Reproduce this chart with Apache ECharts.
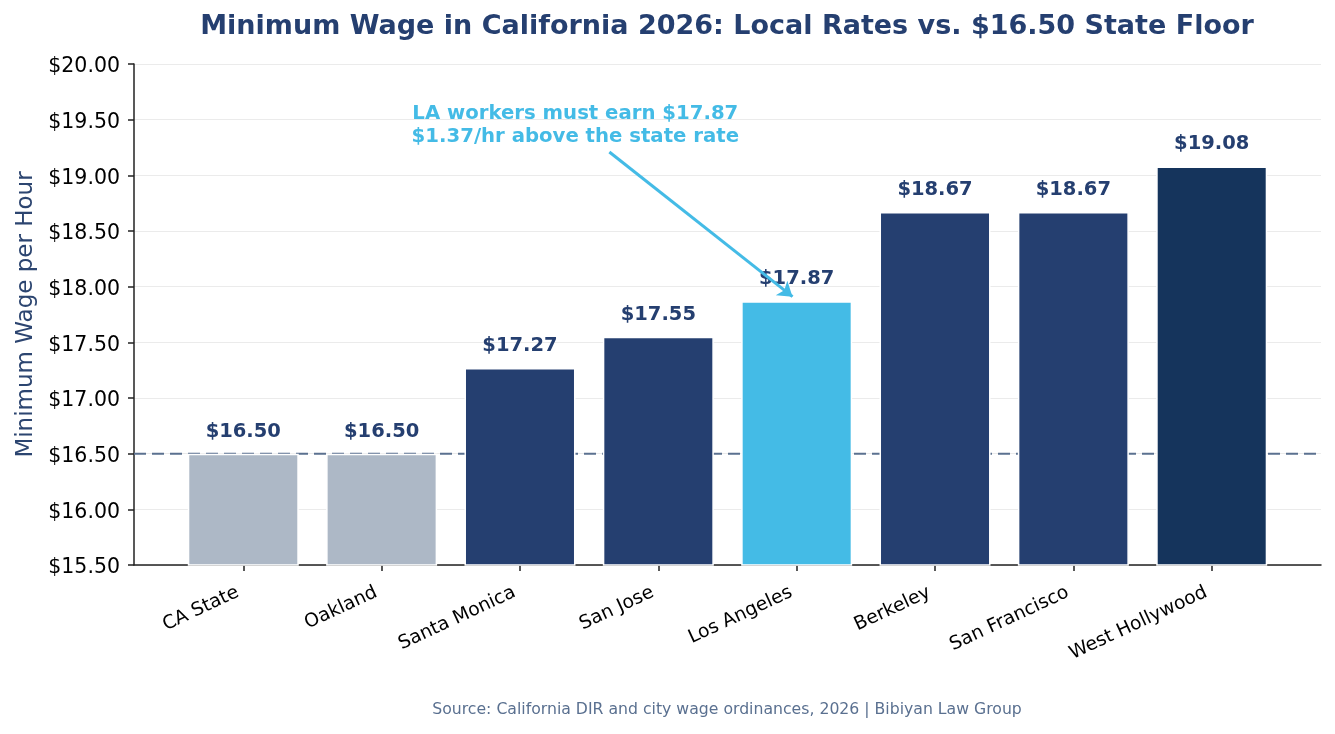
<!DOCTYPE html>
<html>
<head>
<meta charset="utf-8">
<script src="https://cdn.jsdelivr.net/npm/echarts@6/dist/echarts.min.js"></script>
<style>html,body{margin:0;padding:0;background:#fff}#c{width:1335px;height:734px}</style>
</head>
<body>
<div id="c"></div>
<script>
// ---- data ----
const cities = ['CA State','Oakland','Santa Monica','San Jose','Los Angeles','Berkeley','San Francisco','West Hollywood'];
const wages = [16.50, 16.50, 17.27, 17.55, 17.87, 18.67, 18.67, 19.08];
const stateFloor = 16.50;
const yTicks = [15.5, 16, 16.5, 17, 17.5, 18, 18.5, 19, 19.5, 20];
const titleText = 'Minimum Wage in California 2026: Local Rates vs. $16.50 State Floor';
const yAxisName = 'Minimum Wage per Hour';
const sourceText = 'Source: California DIR and city wage ordinances, 2026 | Bibiyan Law Group';
const annotationLines = ['LA workers must earn $17.87', '$1.37/hr above the state rate'];
const arrowFrom = [2.646, 19.21];
const arrowTo = [3.97, 17.91];
const annotationAt = [2.40, 19.45];

// ---- styles ----
const barColors = ['#adb8c6','#adb8c6','#253f70','#253f70','#44bbe6','#253f70','#253f70','#15345c'];
const navy = '#253f70';
const accent = '#44bbe6';
const font = 'DejaVu Sans';
const xMin = -0.79, xMax = 7.79;
const idx = cities.map((_, i) => i);

const chart = echarts.init(document.getElementById('c'), null, {renderer: 'canvas'});
chart.setOption({
  animation: false,
  backgroundColor: '#fff',
  textStyle: {fontFamily: font},
  graphic: [
    {
      type: 'text', x: 727, y: 27,
      style: {text: titleText, fontFamily: font, fontSize: 27, fontWeight: 'bold', fill: navy,
              align: 'center', verticalAlign: 'middle'}
    },
    {
      type: 'text', x: 727, y: 710,
      style: {text: sourceText, fontFamily: font, fontSize: 15.7, fill: '#5a7090',
              align: 'center', verticalAlign: 'middle'}
    }
  ],
  grid: {left: 134, right: 14, top: 64, bottom: 169, containLabel: false},
  xAxis: {
    type: 'value', min: xMin, max: xMax,
    splitLine: {show: false},
    axisLine: {onZero: false, lineStyle: {color: '#222', width: 1.5}},
    axisTick: {show: true, length: 6, customValues: idx, lineStyle: {color: '#222', width: 1.5}},
    axisLabel: {
      customValues: idx, rotate: 25, fontSize: 18.8, color: '#000', margin: 24,
      padding: [0, 6, 0, 0],
      formatter: v => cities[Math.round(v)]
    }
  },
  yAxis: {
    type: 'value', min: 15.5, max: 20, interval: 0.5,
    name: yAxisName, nameLocation: 'middle', nameGap: 96,
    nameTextStyle: {fontFamily: font, fontSize: 23, color: '#2c4570'},
    axisLine: {show: true, onZero: false, lineStyle: {color: '#222', width: 1.5}},
    axisTick: {show: true, length: 6, lineStyle: {color: '#222', width: 1.5}},
    axisLabel: {
      color: '#000', margin: 14,
      formatter: v => '{v|$' + v.toFixed(2) + '}',
      rich: {v: {fontSize: 20.5, color: '#000', fontFamily: font, padding: [6, 0, 0, 0]}}
    },
    splitLine: {show: true, lineStyle: {color: '#ebebeb', width: 1.2}}
  },
  series: [
    {
      type: 'line', z: 1, silent: true, symbol: 'none',
      data: [[xMin, stateFloor], [xMax, stateFloor]],
      lineStyle: {color: '#5b7190', width: 2, type: [12, 6]}
    },
    {
      type: 'bar', z: 2, barWidth: 111,
      data: wages.map((w, i) => ({value: [i, w], itemStyle: {color: barColors[i]}})),
      itemStyle: {borderColor: '#fff', borderWidth: 1.5},
      label: {
        show: true, position: 'top', distance: 12,
        fontSize: 19.5, fontWeight: 'bold', color: navy,
        formatter: p => '$' + p.value[1].toFixed(2)
      },
      markLine: {
        silent: true, symbol: ['none', 'arrow'], symbolSize: 14, z: 5,
        label: {show: false},
        lineStyle: {color: accent, width: 3, type: 'solid'},
        data: [[{coord: arrowFrom}, {coord: arrowTo}]]
      },
      markPoint: {
        silent: true, symbol: 'circle', symbolSize: 0, z: 5,
        label: {
          show: true, position: 'inside', align: 'center',
          fontSize: 19.7, fontWeight: 'bold', color: accent, lineHeight: 23,
          formatter: annotationLines.join('\n')
        },
        data: [{coord: annotationAt}]
      }
    }
  ]
});
</script>
</body>
</html>
